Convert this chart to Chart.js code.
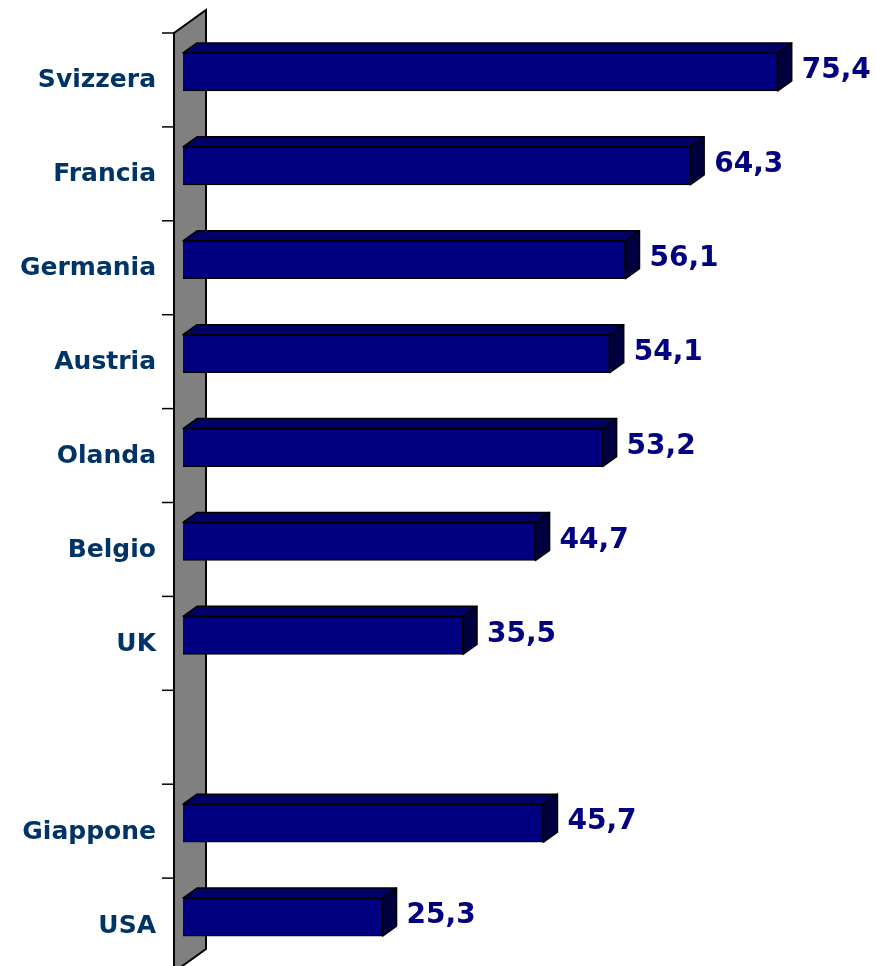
<!DOCTYPE html>
<html>
<head>
<meta charset="utf-8">
<script src="https://cdn.jsdelivr.net/npm/chart.js@4.4.1/dist/chart.umd.min.js"></script>
<style>
  html, body { margin: 0; padding: 0; background: #fff; }
  #wrap { width: 876px; height: 966px; }
</style>
</head>
<body>
<div id="wrap"><canvas id="chart" width="876" height="966"></canvas></div>
<script>
const categories = ["Svizzera", "Francia", "Germania", "Austria", "Olanda", "Belgio", "UK", "", "Giappone", "USA"];
const values = [75.4, 64.3, 56.1, 54.1, 53.2, 44.7, 35.5, null, 45.7, 25.3];
const xMin = 0;
const xMax = 80;

const DEPTH_X = 14, DEPTH_Y = -10; // bar depth
const WALL_X = 32, WALL_Y = -23;   // wall depth

// gray wall + tick marks, drawn before the bars
const wallPlugin = {
  id: "wall",
  beforeDatasetsDraw(chart) {
    const ctx = chart.ctx;
    const area = chart.chartArea;
    const y = chart.scales.y;
    const fx = area.left - 9;
    const top = area.top + 8, bot = area.bottom + 8;
    ctx.save();
    ctx.beginPath();
    ctx.moveTo(fx, top);
    ctx.lineTo(fx + WALL_X, top + WALL_Y);
    ctx.lineTo(fx + WALL_X, bot + WALL_Y);
    ctx.lineTo(fx, bot);
    ctx.closePath();
    ctx.fillStyle = "#808080";
    ctx.fill();
    ctx.strokeStyle = "#000";
    ctx.lineWidth = 2;
    ctx.stroke();

    const band = (area.bottom - area.top) / categories.length;
    ctx.lineWidth = 1.5;
    for (let i = 0; i < categories.length; i++) {
      const ty = y.getPixelForValue(i) - band / 2 + 8;
      ctx.beginPath();
      ctx.moveTo(fx - 12, ty);
      ctx.lineTo(fx, ty);
      ctx.stroke();
    }
    ctx.restore();
  },
  afterDatasetsDraw(chart) {
    const ctx = chart.ctx;
    const meta = chart.getDatasetMeta(0);
    ctx.save();
    ctx.strokeStyle = "#000";
    ctx.lineWidth = 1.5;
    ctx.lineJoin = "round";
    meta.data.forEach((bar, i) => {
      if (values[i] == null) return;
      const x0 = bar.base, x1 = bar.x;
      const yT = bar.y - bar.height / 2, yB = bar.y + bar.height / 2;
      // top face
      ctx.beginPath();
      ctx.moveTo(x0, yT);
      ctx.lineTo(x0 + DEPTH_X, yT + DEPTH_Y);
      ctx.lineTo(x1 + DEPTH_X, yT + DEPTH_Y);
      ctx.lineTo(x1, yT);
      ctx.closePath();
      ctx.fillStyle = "#000066";
      ctx.fill();
      ctx.stroke();
      // side face
      ctx.beginPath();
      ctx.moveTo(x1, yT);
      ctx.lineTo(x1 + DEPTH_X, yT + DEPTH_Y);
      ctx.lineTo(x1 + DEPTH_X, yB + DEPTH_Y);
      ctx.lineTo(x1, yB);
      ctx.closePath();
      ctx.fillStyle = "#000040";
      ctx.fill();
      ctx.stroke();
      // value label
      ctx.fillStyle = "#000080";
      ctx.font = "bold 28px 'DejaVu Sans'";
      ctx.textAlign = "left";
      ctx.textBaseline = "middle";
      ctx.fillText(values[i].toFixed(1).replace(".", ","), x1 + 24, bar.y - 1);
    });
    ctx.restore();
  }
};

new Chart(document.getElementById("chart"), {
  type: "bar",
  data: {
    labels: categories,
    datasets: [{
      data: values,
      backgroundColor: "#000080",
      borderColor: "#000",
      borderWidth: 1.5,
      barThickness: 38,
      categoryPercentage: 1.0
    }]
  },
  options: {
    indexAxis: "y",
    responsive: false,
    animation: false,
    devicePixelRatio: 1,
    layout: { padding: { top: 25, bottom: 2, left: 0, right: 62 } },
    plugins: { legend: { display: false }, tooltip: { enabled: false } },
    scales: {
      x: { display: false, min: xMin, max: xMax },
      y: {
        grid: { display: false, drawTicks: false },
        border: { display: false },
        afterFit: (s) => { s.width = 183; s.paddingTop = 0; s.paddingBottom = 0; },
        ticks: {
          padding: 27,
          labelOffset: 9,
          color: "#003366",
          font: { family: "'DejaVu Sans'", weight: "bold", size: 25 }
        }
      }
    }
  },
  plugins: [wallPlugin]
});
</script>
</body>
</html>
